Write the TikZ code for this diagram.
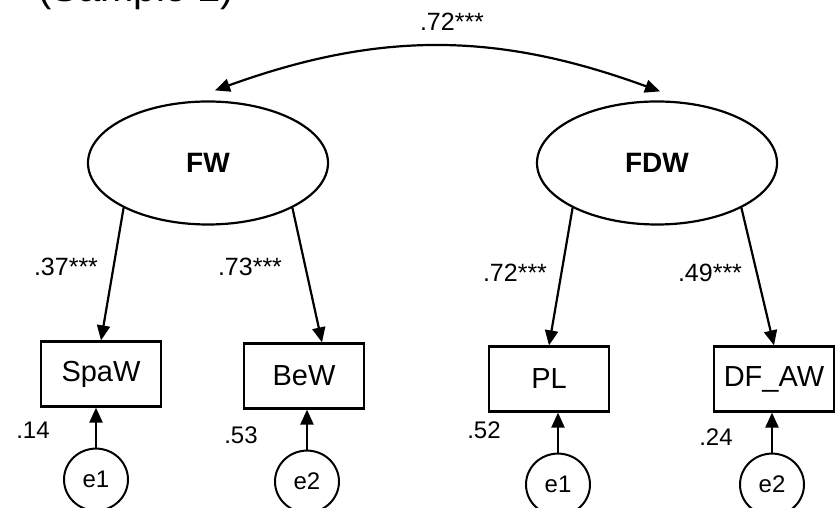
\documentclass[tikz,border=0pt]{standalone}
\usepackage{fontspec}
\setmainfont{Liberation Sans}
\usetikzlibrary{positioning, arrows.meta, shapes.geometric}

\begin{document}
\begin{tikzpicture}[
    x=1pt, y=1pt,
    % --- STYLES ---
    latent_node/.style={draw, ellipse, line width=2.2pt, minimum width=240pt, minimum height=123pt, inner sep=0pt,
        font=\fontsize{28}{32}\selectfont\bfseries},
    obs_node/.style={draw, rectangle, line width=2.2pt, minimum width=120pt, minimum height=65pt, inner sep=0pt,
        font=\fontsize{29}{33}\selectfont},
    err_node/.style={draw, ellipse, line width=2pt, minimum width=64pt, minimum height=62pt, inner sep=0pt,
        font=\fontsize{24}{28}\selectfont},
    coef_label/.style={inner sep=0pt, font=\fontsize{25}{29}\selectfont},
    resid_label/.style={inner sep=0pt, font=\fontsize{24}{28}\selectfont},
    path_arrow/.style={-{Triangle[length=15pt, width=13pt]}, line width=2.2pt},
    cov_arrow/.style={{Triangle[length=15pt, width=13pt]}-{Triangle[length=15pt, width=13pt]}, line width=2.2pt}
]

% --- Frame of the page (836 x 508), cuts the heading and the error circles ---
\useasboundingbox (0,0) rectangle (836,508);
\clip (0,0) rectangle (836,508);

% Heading, only the lower edge of it is inside the page
\node[anchor=base west, inner sep=0pt, font=\fontsize{40}{44}\selectfont] (heading) at (38,506) {(Sample 2)};

% --- Latent factors ---
\node[latent_node] (FW) at (208,345) {FW};
\node[latent_node] (FDW) at (657,345) {FDW};

% --- Indicators ---
\node[obs_node] (SpaW) at (101,134) {SpaW};
\node[obs_node] (BeW) at (304,132) {BeW};
\node[obs_node] (PL) at (549,129) {PL};
\node[obs_node] (DF_AW) at (774,129) {DF\_AW};

% --- Error terms ---
\node[err_node, below=40pt of SpaW, xshift=-5pt] (SpaW_e) {e1};
\node[err_node, below=40pt of BeW, xshift=3pt] (BeW_e) {e2};
\node[err_node, below=40pt of PL, xshift=9pt] (PL_e) {e1};
\node[err_node, below=40pt of DF_AW, xshift=-2pt] (DF_AW_e) {e2};

% --- Coefficients ---
\node[coef_label] (cov_lab) at (452,486) {.72***};
\node[coef_label] (SpaW_lab) at (66,241) {.37***};
\node[coef_label] (BeW_lab) at (250,241) {.73***};
\node[coef_label] (PL_lab) at (515,235) {.72***};
\node[coef_label] (DF_AW_lab) at (710,235) {.49***};

% Squared multiple correlations
\node[resid_label] (SpaW_r) at (33,78) {.14};
\node[resid_label] (BeW_r) at (241,73) {.53};
\node[resid_label] (PL_r) at (484,78) {.52};
\node[resid_label] (DF_AW_r) at (716,71) {.24};

% --- ARROWS ---
\draw[cov_arrow] ([shift={(7pt,10pt)}]FW.north) to[bend left=20] ([shift={(3pt,9pt)}]FDW.north);

\draw[path_arrow] (FW.208) -- (SpaW.north);
\draw[path_arrow] (FW.332) -- ([xshift=18pt]BeW.north);
\draw[path_arrow] (FDW.208) -- (PL.north);
\draw[path_arrow] (FDW.332) -- (DF_AW.north);

\draw[path_arrow] (SpaW_e) -- (SpaW_e |- SpaW.south);
\draw[path_arrow] (BeW_e) -- (BeW_e |- BeW.south);
\draw[path_arrow] (PL_e) -- (PL_e |- PL.south);
\draw[path_arrow] (DF_AW_e) -- (DF_AW_e |- DF_AW.south);

\end{tikzpicture}
\end{document}
